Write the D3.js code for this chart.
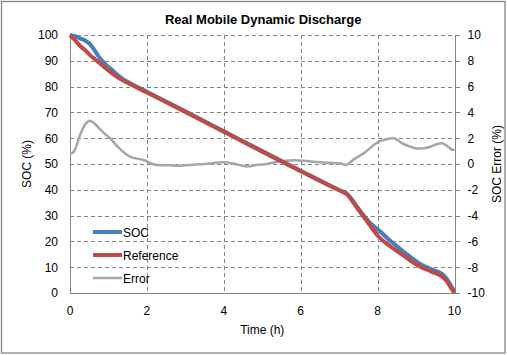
<!DOCTYPE html>
<html><head><meta charset="utf-8">
<script src="https://cdn.jsdelivr.net/npm/d3@7"></script>
<style>
html,body{margin:0;padding:0;background:#fff;}
svg{display:block;font-family:Arial,"Liberation Sans",sans-serif;}
</style></head>
<body><svg id="c" width="507" height="355"></svg>
<script>
// ---- data ----
const socTime = [0,0.15,0.26,0.4,0.52,0.65,0.78,0.9,1.04,1.2,1.35,1.6,2,3,4,5,6,7,7.19,7.5,7.75,8.07,8.3,8.59,8.85,9.11,9.4,9.68,9.8,9.9,10];
const socValues = [100,99.5,98.7,97.8,96.5,93.8,91,89,87.1,85,83.2,81,78,70.4,62.7,55,47.4,39.9,38.6,32.8,28,23.8,20.6,17,14,11.3,9.2,7.4,5.5,3,0.5];
const refTime = [0,0.13,0.26,0.4,0.52,0.65,0.78,1.04,1.2,1.35,1.6,2,3,4,5,6,7,7.19,7.5,7.75,8.03,8.3,8.59,8.85,9.11,9.4,9.68,9.8,9.9,10];
const refValues = [100,98,95.8,94,92.2,90.6,89,85.8,84,82.6,80.7,77.7,70.2,62.5,54.8,47.2,39.8,38.4,32.3,27.3,21.8,18.4,15.4,12.6,10.2,8.3,6.3,4.5,2.2,0];
const errTime = [0,0.1,0.26,0.4,0.52,0.65,0.78,0.9,1.04,1.22,1.38,1.56,1.91,2.26,2.6,2.86,3.2,3.5,3.99,4.3,4.6,4.9,5.12,5.38,5.82,6.34,6.7,7.03,7.16,7.4,7.64,8.03,8.2,8.42,8.64,8.85,9.03,9.2,9.38,9.55,9.68,9.78,9.85,9.95,10];
const errValues = [0.8,0.95,2.25,3.1,3.36,3.1,2.7,2.35,2.0,1.4,0.95,0.57,0.31,-0.08,-0.1,-0.13,-0.05,0.0,0.13,0.0,-0.2,-0.05,0.0,0.18,0.3,0.18,0.1,0.05,-0.08,0.4,0.83,1.73,1.9,2.0,1.6,1.35,1.2,1.22,1.34,1.55,1.6,1.45,1.3,1.1,1.1];
const xTicks = [0,2,4,6,8,10];
const yTicks = [0,10,20,30,40,50,60,70,80,90,100];
const y2Ticks = [-10,-8,-6,-4,-2,0,2,4,6,8,10];
const seriesNames = ["SOC","Reference","Error"];
const seriesColors = ["#4a7ebb","#be4b48","#a6a6a6"];

// ---- layout ----
const svg = d3.select("#c");
const L = 70, R = 454.5, T = 35, B = 293;
const x = d3.scaleLinear().domain([0,10]).range([L,R]);
const y = d3.scaleLinear().domain([0,100]).range([B,T]);
const y2 = d3.scaleLinear().domain([-10,10]).range([B,T]);

svg.append("rect").attr("x",1.5).attr("y",1.5).attr("width",503.5).attr("height",351.5)
  .attr("fill","#fff").attr("stroke","#868686").attr("stroke-width",1.3);

// grid
const grid = svg.append("g").attr("stroke","#868686").attr("stroke-width",1).attr("stroke-dasharray","4,3").attr("fill","none");
yTicks.filter(d=>d>0).forEach(d=>{
  grid.append("line").attr("x1",L).attr("x2",R).attr("y1",Math.round(y(d))+0.5).attr("y2",Math.round(y(d))+0.5);
});
xTicks.filter(d=>d>0).forEach(d=>{
  grid.append("line").attr("y1",T).attr("y2",B).attr("x1",Math.round(x(d))+0.5).attr("x2",Math.round(x(d))+0.5);
});

// axes
const ax = svg.append("g").attr("stroke","#868686").attr("stroke-width",1).attr("fill","none");
ax.append("line").attr("x1",L+0.5).attr("x2",L+0.5).attr("y1",T).attr("y2",B+0.5);
ax.append("line").attr("x1",L).attr("x2",R+0.5).attr("y1",B+0.5).attr("y2",B+0.5);
ax.append("line").attr("x1",Math.round(R)+0.5).attr("x2",Math.round(R)+0.5).attr("y1",T).attr("y2",B+0.5);
y2Ticks.forEach(d=>{
  ax.append("line").attr("x1",Math.round(R)).attr("x2",Math.round(R)+5).attr("y1",Math.round(y2(d))+0.5).attr("y2",Math.round(y2(d))+0.5);
});

const txt = svg.append("g").attr("font-size","12px").attr("fill","#000");
yTicks.forEach(d=>{
  txt.append("text").attr("x",58).attr("y",y(d)+4.3).attr("text-anchor","end").text(d);
});
y2Ticks.forEach(d=>{
  txt.append("text").attr("x",467.5).attr("y",y2(d)+4.3).attr("text-anchor","start").text(d);
});
xTicks.forEach(d=>{
  txt.append("text").attr("x",x(d)).attr("y",314.5).attr("text-anchor","middle").text(d);
});
txt.append("text").attr("x",(L+R)/2).attr("y",334).attr("text-anchor","middle").text("Time (h)");
txt.append("text").attr("transform","translate(31,164) rotate(-90)").attr("text-anchor","middle").text("SOC (%)");
txt.append("text").attr("transform","translate(501,164) rotate(-90)").attr("text-anchor","middle").text("SOC Error (%)");
svg.append("text").attr("x",(L+R)/2+1).attr("y",24).attr("text-anchor","middle")
  .attr("font-size","13px").attr("font-weight","bold").text("Real Mobile Dynamic Discharge");

// series
const line1 = d3.line().x(d=>x(d[0])).y(d=>y(d[1])).curve(d3.curveMonotoneX);
const line2 = d3.line().x(d=>x(d[0])).y(d=>y2(d[1])).curve(d3.curveMonotoneX);
svg.append("path").datum(errTime.map((t,i)=>[t,errValues[i]])).attr("d",line2)
  .attr("fill","none").attr("stroke",seriesColors[2]).attr("stroke-width",2.5).attr("stroke-linejoin","round");
svg.append("path").datum(socTime.map((t,i)=>[t,socValues[i]])).attr("d",line1)
  .attr("fill","none").attr("stroke",seriesColors[0]).attr("stroke-width",4).attr("stroke-linejoin","round");
svg.append("path").datum(refTime.map((t,i)=>[t,refValues[i]])).attr("d",line1)
  .attr("fill","none").attr("stroke",seriesColors[1]).attr("stroke-width",4).attr("stroke-linejoin","round");

// legend
const lg = svg.append("g");
const legY = [232,255,278];
seriesNames.forEach((n,i)=>{
  lg.append("line").attr("x1",93).attr("x2",122).attr("y1",legY[i]).attr("y2",legY[i])
    .attr("stroke",seriesColors[i]).attr("stroke-width",i<2?4:2.5);
  lg.append("text").attr("x",123).attr("y",legY[i]+4.5).attr("font-size","12px").text(n);
});
</script></body></html>
